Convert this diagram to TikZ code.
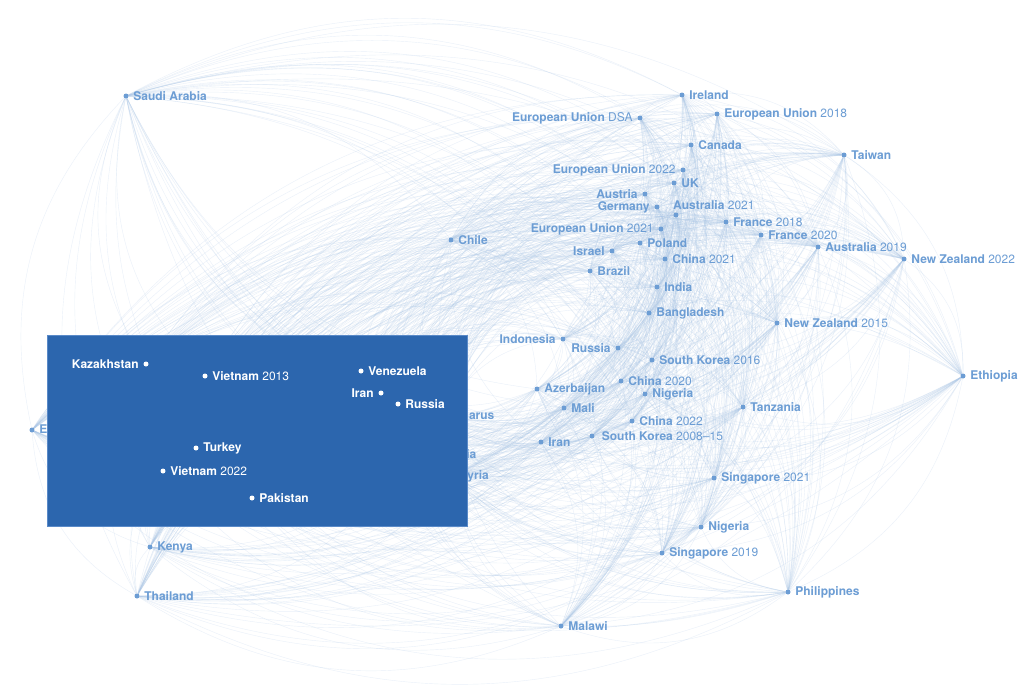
\documentclass[tikz,border=0pt]{standalone}
\usepackage{fontspec}
\setmainfont{TeX Gyre Heros}
\usetikzlibrary{calc}
\definecolor{labc}{RGB}{108,157,212}
\definecolor{boxc}{RGB}{44,102,174}
\definecolor{boxedge}{RGB}{90,138,200}
\definecolor{edgec}{RGB}{172,200,232}
\pgfdeclarelayer{background}
\pgfdeclarelayer{front}
\pgfsetlayers{background,main,front}
\tikzset{
 dot/.style={circle,fill=labc,inner sep=0pt,minimum size=5pt},
 wdot/.style={circle,fill=white,inner sep=0pt,minimum size=5pt},
 lab/.style={text=labc,font=\fontsize{12}{13}\selectfont,inner sep=0pt},
 wlab/.style={text=white,font=\fontsize{12}{13}\selectfont,inner sep=0pt},
 edge/.style={draw=edgec,line width=0.4pt,opacity=0.26},
 label distance=4.5pt,
}
\begin{document}
\begin{tikzpicture}[x=1pt,y=-1pt]
\begin{pgfonlayer}{background}
\fill[white] (0,0) rectangle (1028,699);
\end{pgfonlayer}
\useasboundingbox (0,0) rectangle (1028,699);
% outer nodes
\node[dot,label={[lab]right:{\textbf{Saudi Arabia}}}] (sa) at (126,96) {};
\node[dot,label={[lab]right:{\textbf{Ireland}}}] (ire) at (682,95) {};
\node[dot,label={[lab]left:{\textbf{European Union} DSA}}] (eudsa) at (640,118) {};
\node[dot,label={[lab]right:{\textbf{European Union} 2018}}] (eu18) at (717,114) {};
\node[dot,label={[lab]right:{\textbf{Canada}}}] (can) at (691,145) {};
\node[dot,label={[lab]right:{\textbf{Taiwan}}}] (tai) at (844,155) {};
\node[dot,label={[lab]left:{\textbf{European Union} 2022}}] (eu22) at (683,170) {};
\node[dot,label={[lab]right:{\textbf{UK}}}] (uk) at (674,183) {};
\node[dot,label={[lab]left:{\textbf{Austria}}}] (aut) at (645,194) {};
\node[dot,label={[lab]left:{\textbf{Germany}}}] (ger) at (657,207) {};
\node[dot] (aus21) at (676,215) {};
\node[lab,anchor=west] (aus21lab) at (673,205) {\textbf{Australia} 2021};
\node[dot,label={[lab]right:{\textbf{France} 2018}}] (fr18) at (726,222) {};
\node[dot,label={[lab]left:{\textbf{European Union} 2021}}] (eu21) at (661,229) {};
\node[dot,label={[lab]right:{\textbf{France} 2020}}] (fr20) at (761,235) {};
\node[dot,label={[lab]right:{\textbf{Chile}}}] (chi) at (451,240) {};
\node[dot,label={[lab]right:{\textbf{Poland}}}] (pol) at (640,243) {};
\node[dot,label={[lab]right:{\textbf{Australia} 2019}}] (aus19) at (818,247) {};
\node[dot,label={[lab]left:{\textbf{Israel}}}] (isr) at (612,251) {};
\node[dot,label={[lab]right:{\textbf{China} 2021}}] (cn21) at (665,259) {};
\node[dot,label={[lab]right:{\textbf{New Zealand} 2022}}] (nz22) at (904,259) {};
\node[dot,label={[lab]right:{\textbf{Brazil}}}] (bra) at (590,271) {};
\node[dot,label={[lab]right:{\textbf{India}}}] (ind) at (657,287) {};
\node[dot,label={[lab]right:{\textbf{Bangladesh}}}] (ban) at (649,313) {};
\node[dot,label={[lab]right:{\textbf{New Zealand} 2015}}] (nz15) at (777,323) {};
\node[dot,label={[lab]left:{\textbf{Indonesia}}}] (idn) at (563,339) {};
\node[dot,label={[lab]left:{\textbf{Russia}}}] (rus) at (618,348) {};
\node[dot,label={[lab]right:{\textbf{South Korea} 2016}}] (sk16) at (652,360) {};
\node[dot,label={[lab]right:{\textbf{Ethiopia}}}] (eth) at (963,376) {};
\node[dot,label={[lab]right:{\textbf{China} 2020}}] (cn20) at (621,381) {};
\node[dot,label={[lab]right:{\textbf{Azerbaijan}}}] (aze) at (537,389) {};
\node[dot,label={[lab]right:{\textbf{Nigeria}}}] (nga) at (645,394) {};
\node[dot,label={[lab]right:{\textbf{Mali}}}] (mali) at (564,408) {};
\node[dot,label={[lab]right:{\textbf{Tanzania}}}] (tan) at (743,407) {};
\node[dot,label={[lab]right:{\textbf{China} 2022}}] (cn22) at (632,421) {};
\node[dot,label={[lab,label distance=7pt]right:{\textbf{South Korea} 2008–15}}] (sk08) at (592,436) {};
\node[dot,label={[lab]right:{\textbf{Iran}}}] (iran) at (541,442) {};
\node[dot,label={[lab]right:{\textbf{Belarus}}}] (bel) at (443,415) {};
\node[dot,label={[lab]right:{\textbf{Cambodia}}}] (cam) at (411,454) {};
\node[dot,label={[lab]right:{\textbf{Syria}}}] (syr) at (452,476) {};
\node[dot,label={[lab]right:{\textbf{Egypt}}}] (egy) at (32,430) {};
\node[dot,label={[lab]right:{\textbf{Singapore} 2021}}] (sg21) at (714,478) {};
\node[dot,label={[lab]right:{\textbf{Nigeria}}}] (ng2) at (701,527) {};
\node[dot,label={[lab]right:{\textbf{Singapore} 2019}}] (sg19) at (662,553) {};
\node[dot,label={[lab]right:{\textbf{Kenya}}}] (ken) at (150,547) {};
\node[dot,label={[lab]right:{\textbf{Thailand}}}] (tha) at (137,596) {};
\node[dot,label={[lab]right:{\textbf{Philippines}}}] (phi) at (788,592) {};
\node[dot,label={[lab]right:{\textbf{Malawi}}}] (mal) at (561,626) {};
% highlight box
\node[draw=boxedge,fill=boxc,line width=0.8pt,inner sep=0pt,minimum width=420pt,minimum height=191pt,anchor=north west] (box) at (47,335) {};
\begin{pgfonlayer}{front}
\node[wdot,label={[wlab]left:{\textbf{Kazakhstan}}}] (kaz) at (146,364) {};
\node[wdot,label={[wlab]right:{\textbf{Vietnam} 2013}}] (vn13) at (205,376) {};
\node[wdot,label={[wlab]right:{\textbf{Venezuela}}}] (ven) at (361,371) {};
\node[wdot,label={[wlab]left:{\textbf{Iran}}}] (irn2) at (381,393) {};
\node[wdot,label={[wlab]right:{\textbf{Russia}}}] (rus2) at (398,404) {};
\node[wdot,label={[wlab]right:{\textbf{Turkey}}}] (tur) at (196,448) {};
\node[wdot,label={[wlab]right:{\textbf{Vietnam} 2022}}] (vn22) at (163,471) {};
\node[wdot,label={[wlab]right:{\textbf{Pakistan}}}] (pak) at (252,498) {};
\end{pgfonlayer}
% connectors
\def\allnodes{sa,ire,eudsa,eu18,can,tai,eu22,uk,aut,ger,aus21,fr18,eu21,fr20,chi,pol,aus19,isr,cn21,nz22,bra,ind,ban,nz15,idn,rus,sk16,eth,cn20,aze,nga,mali,tan,cn22,sk08,iran,bel,cam,syr,egy,sg21,ng2,sg19,ken,tha,phi,mal,kaz,vn13,ven,irn2,rus2,tur,vn22,pak}
\begin{pgfonlayer}{background}
\foreach \a [count=\i] in \allnodes {
  \foreach \b [count=\j] in \allnodes {
    \ifnum\j>\i
      \draw[edge] let \p1=(\a.center), \p2=(\b.center),
        \n1={mod(atan2(\y2+370,\x2-520)-atan2(\y1+370,\x1-520)+540,360)-180},
        \n2={(\n1<0)?28:-28} in (\a) to[bend left=\n2] (\b);
    \fi
  }
}
\end{pgfonlayer}
\end{tikzpicture}
\end{document}
